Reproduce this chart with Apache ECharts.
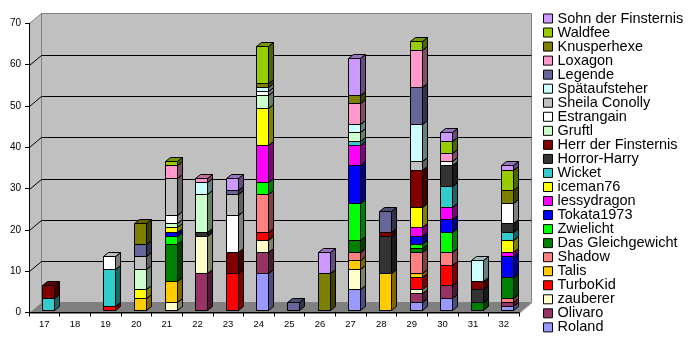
<!DOCTYPE html>
<html><head><meta charset="utf-8">
<script src="https://cdn.jsdelivr.net/npm/echarts@6/dist/echarts.min.js"></script>
<style>html,body{margin:0;padding:0;background:#fff}#c{width:690px;height:340px}</style>
</head><body><div id="c"></div>
<script>
// ---- data ----
const categories = ['17','18','19','20','21','22','23','24','25','26','27','28','29','30','31','32'];
const yTickValues = [0,10,20,30,40,50,60,70];

// series in stacking order (bottom first)
const roland        = [0,0,0,0,0,0,0,9,0,0,5,0,2,3,0,1];
const olivaro       = [0,0,0,0,0,9,0,5,0,0,0,0,2,3,0,1];
const zauberer      = [0,0,0,0,2,9,0,3,0,0,5,0,1,0,0,0];
const turboKid      = [0,0,1,0,0,0,9,2,0,0,0,0,3,5,0,0];
const talis         = [0,0,0,3,5,0,0,0,0,0,2,9,1,0,0,0];
const shadow        = [0,0,0,0,0,0,0,9,0,0,2,0,5,3,0,1];
const gleichgewicht = [0,0,0,0,9,0,0,0,0,0,3,0,1,0,2,5];
const zwielicht     = [0,0,0,0,2,0,0,3,0,0,9,0,1,5,0,0];
const tokata        = [0,0,0,0,1,0,0,0,0,0,9,0,2,3,0,5];
const lessydragon   = [0,0,0,0,0,0,0,9,0,0,5,0,2,3,0,1];
const iceman        = [0,0,0,2,1,0,0,9,0,0,0,0,5,0,0,3];
const wicket        = [3,0,9,0,0,0,0,0,0,0,1,0,0,5,0,2];
const horrorHarry   = [0,0,0,0,0,1,0,0,0,0,0,9,0,5,3,2];
const herrFinst     = [3,0,0,0,0,0,5,0,0,0,0,1,9,0,2,0];
const gruftl        = [0,0,0,5,1,9,0,3,0,0,2,0,0,0,0,0];
const estrangain    = [0,0,3,0,2,0,9,1,0,0,0,0,0,1,0,5];
const sheila        = [0,0,0,3,9,0,5,0,0,0,0,0,2,0,0,0];
const spaet         = [0,0,0,0,0,3,0,1,0,0,2,0,9,0,5,0];
const legende       = [0,0,0,3,0,0,1,0,2,0,0,5,9,0,0,0];
const loxagon       = [0,0,0,0,3,1,0,0,0,0,5,0,9,2,0,0];
const knusperhexe   = [0,0,0,5,0,0,0,1,0,9,2,0,0,0,0,3];
const waldfee       = [0,0,0,0,1,0,0,9,0,0,0,0,2,3,0,5];
const sohn          = [0,0,0,0,0,0,3,0,0,5,9,0,0,2,0,1];

const seriesNames = ['Roland','Olivaro','zauberer','TurboKid','Talis','Shadow','Das Gleichgewicht','Zwielicht','Tokata1973','lessydragon','iceman76','Wicket','Horror-Harry','Herr der Finsternis','Gruftl','Estrangain','Sheila Conolly','Spätaufsteher','Legende','Loxagon','Knusperhexe','Waldfee','Sohn der Finsternis'];
const seriesValues = [roland,olivaro,zauberer,turboKid,talis,shadow,gleichgewicht,zwielicht,tokata,lessydragon,iceman,wicket,horrorHarry,herrFinst,gruftl,estrangain,sheila,spaet,legende,loxagon,knusperhexe,waldfee,sohn];
const seriesColors = ['#9999FF','#993366','#FFFFCC','#FF0000','#FFCC00','#FF8080','#008000','#00FF00','#0000FF','#FF00FF','#FFFF00','#33CCCC','#333333','#800000','#CCFFCC','#FFFFFF','#C0C0C0','#CCFFFF','#666699','#FF99CC','#808000','#99CC00','#CC99FF'];

// ---- styling constants ----
const WALL_DX = 12, WALL_DY = -10;
const BAR_DX = 3.8, BAR_DY = -2.5, BAR_DEPTH_X = 5, BAR_DEPTH_Y = -4;

function shade(hex, f) {
  const n = parseInt(hex.slice(1), 16);
  const r = Math.round(((n >> 16) & 255) * f), g = Math.round(((n >> 8) & 255) * f), b = Math.round((n & 255) * f);
  return 'rgb(' + r + ',' + g + ',' + b + ')';
}

function frameRender(params, api) {
  const cs = params.coordSys;
  const x = cs.x, y = cs.y, w = cs.width, h = cs.height;
  const X = v => Math.round(v) + 0.5;
  const children = [];
  children.push({type:'rect', shape:{x:X(x+WALL_DX), y:X(y+WALL_DY), width:Math.round(w), height:Math.round(h)},
    style:{fill:'#C0C0C0', stroke:'#808080', lineWidth:1}});
  children.push({type:'polygon', shape:{points:[[X(x),X(y+h)],[X(x),X(y)],[X(x+WALL_DX),X(y+WALL_DY)],[X(x+WALL_DX),X(y+h+WALL_DY)]]},
    style:{fill:'#C0C0C0', stroke:'#808080', lineWidth:1}});
  yTickValues.forEach(t => {
    if (t === 0 || t === yTickValues[yTickValues.length-1]) return;
    const yy = api.coord([0, t])[1];
    children.push({type:'polyline', shape:{points:[[X(x),X(yy)],[X(x+WALL_DX),X(yy+WALL_DY)],[X(x+w+WALL_DX),X(yy+WALL_DY)]]},
      style:{stroke:'#000', lineWidth:1, fill:null}});
  });
  const y0 = api.coord([0, 0])[1];
  children.push({type:'polygon', shape:{points:[[X(x),X(y0)],[X(x+w),X(y0)],[X(x+w+WALL_DX),X(y0+WALL_DY)],[X(x+WALL_DX),X(y0+WALL_DY)]]},
    style:{fill:'#808080', stroke:'#808080', lineWidth:1}});
  children.push({type:'line', shape:{x1:X(x+w),y1:X(y0),x2:X(x+w+WALL_DX),y2:X(y0+WALL_DY)}, style:{stroke:'#E0E0E0', lineWidth:1}});
  return {type:'group', children};
}

function makeBarRender(color) {
  const side = shade(color, 0.5), top = shade(color, 0.75);
  return function (params, api) {
    const cat = api.value(0), lo = api.value(1), hi = api.value(2);
    const pLo = api.coord([cat, lo]), pHi = api.coord([cat, hi]);
    const slot = api.size([1, 0])[0];
    const bw = Math.round(slot * 0.39);
    const x0 = Math.round(pLo[0] - bw / 2 + BAR_DX) + 0.5;
    const yb = Math.round(pLo[1] + BAR_DY) + 0.5;
    const yt = Math.round(pHi[1] + BAR_DY) + 0.5;
    const x1 = x0 + bw;
    const st = {stroke:'#000', lineWidth:1};
    return {type:'group', children:[
      {type:'polygon', shape:{points:[[x1,yb],[x1+BAR_DEPTH_X,yb+BAR_DEPTH_Y],[x1+BAR_DEPTH_X,yt+BAR_DEPTH_Y],[x1,yt]]}, style:Object.assign({fill:side}, st)},
      {type:'polygon', shape:{points:[[x0,yt],[x0+BAR_DEPTH_X,yt+BAR_DEPTH_Y],[x1+BAR_DEPTH_X,yt+BAR_DEPTH_Y],[x1,yt]]}, style:Object.assign({fill:top}, st)},
      {type:'rect', shape:{x:x0, y:yt, width:bw, height:yb-yt}, style:Object.assign({fill:color}, st)}
    ]};
  };
}

const base = categories.map(() => 0);
const barSeries = seriesNames.map((name, i) => {
  const data = [];
  seriesValues[i].forEach((v, j) => {
    if (v > 0) { data.push([j, base[j], base[j] + v]); base[j] += v; }
  });
  return {
    name, type:'custom', renderItem: makeBarRender(seriesColors[i]),
    itemStyle:{color: seriesColors[i]}, encode:{x:0, y:[1,2]}, data, z:2
  };
});

const chart = echarts.init(document.getElementById('c'), null, {renderer:'canvas'});
chart.setOption({
  animation:false,
  backgroundColor:'#FFFFFF',
  grid:{left:29, top:23.3, width:490, height:289.2, containLabel:false},
  xAxis:{type:'category', data:categories, boundaryGap:true,
    axisLine:{show:true, lineStyle:{color:'#000', width:1}},
    axisTick:{show:true, length:4, alignWithLabel:false, lineStyle:{color:'#000'}},
    axisLabel:{color:'#000', fontSize:9.5, fontFamily:'Liberation Sans, Arial', margin:7, interval:0},
    splitLine:{show:false}},
  yAxis:{type:'value', min:0, max:70, interval:10,
    axisLine:{show:true, lineStyle:{color:'#000', width:1}},
    axisTick:{show:true, length:4, lineStyle:{color:'#000'}},
    axisLabel:{color:'#000', fontSize:10, fontFamily:'Liberation Sans, Arial', margin:8},
    splitLine:{show:false}},
  legend:{orient:'vertical', left:543, top:11, height:500, width:160, padding:0, itemGap:-0.96, itemWidth:9, itemHeight:9,
    icon:'rect', selectedMode:false,
    itemStyle:{borderColor:'#000', borderWidth:1},
    textStyle:{color:'#000', fontSize:14.5, fontFamily:'Liberation Sans, Arial', lineHeight:14},
    data: seriesNames.slice().reverse()},
  series:[{type:'custom', name:'__frame', renderItem:frameRender, data:[[0,0]], z:-1, silent:true,
    encode:{x:0, y:1}}].concat(barSeries)
});
</script></body></html>
